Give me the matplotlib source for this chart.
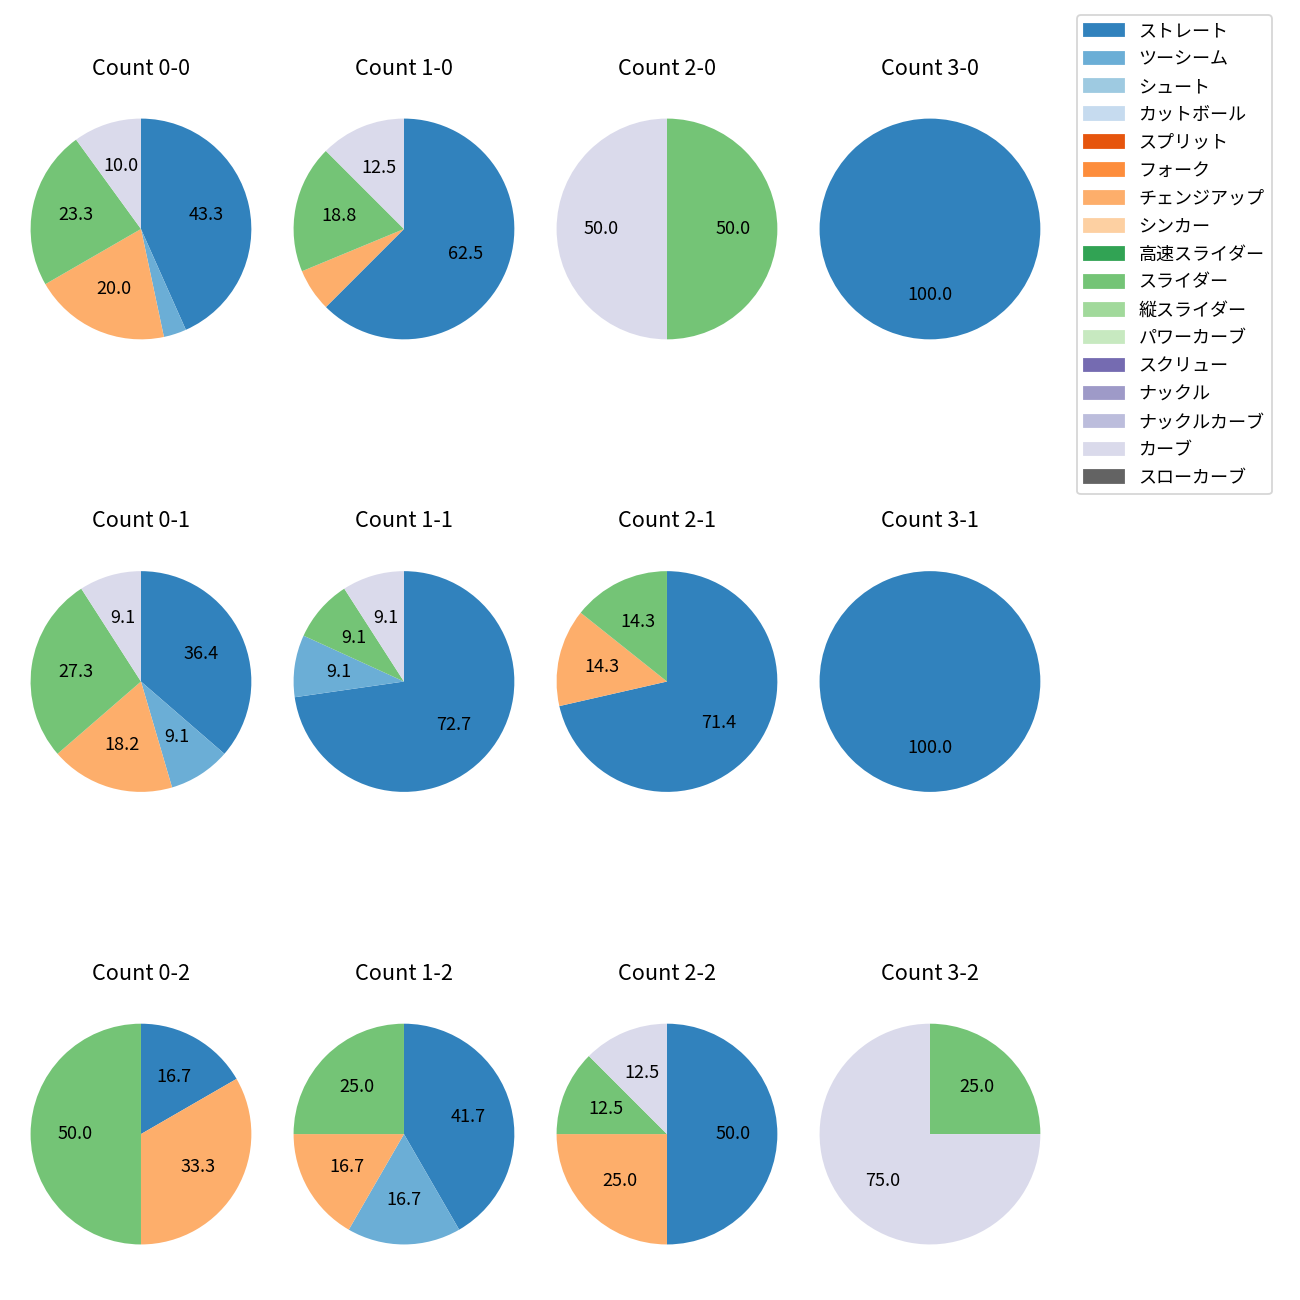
import matplotlib
matplotlib.use('Agg')
import matplotlib.pyplot as plt
import matplotlib.patches as mpatches
import numpy as np

plt.rcParams['font.family'] = ['Noto Sans CJK JP', 'DejaVu Sans']

pitch_types = ['ストレート', 'ツーシーム', 'シュート', 'カットボール', 'スプリット', 'フォーク',
               'チェンジアップ', 'シンカー', '高速スライダー', 'スライダー', '縦スライダー',
               'パワーカーブ', 'スクリュー', 'ナックル', 'ナックルカーブ', 'カーブ', 'スローカーブ']
colors = ['#3182bd', '#6baed6', '#9ecae1', '#c6dbef', '#e6550d', '#fd8d3c',
          '#fdae6b', '#fdd0a2', '#31a354', '#74c476', '#a1d99b', '#c7e9c0',
          '#756bb1', '#9e9ac8', '#bcbddc', '#dadaeb', '#636363']

balls = [0, 1, 2, 3]
strikes = [0, 1, 2]

# pitch counts per ball-strike count, in pitch_types order
counts = {
    '0-0': [13, 1, 0, 0, 0, 0, 6, 0, 0, 7, 0, 0, 0, 0, 0, 3, 0],
    '1-0': [10, 0, 0, 0, 0, 0, 1, 0, 0, 3, 0, 0, 0, 0, 0, 2, 0],
    '2-0': [0, 0, 0, 0, 0, 0, 0, 0, 0, 1, 0, 0, 0, 0, 0, 1, 0],
    '3-0': [1, 0, 0, 0, 0, 0, 0, 0, 0, 0, 0, 0, 0, 0, 0, 0, 0],
    '0-1': [4, 1, 0, 0, 0, 0, 2, 0, 0, 3, 0, 0, 0, 0, 0, 1, 0],
    '1-1': [8, 1, 0, 0, 0, 0, 0, 0, 0, 1, 0, 0, 0, 0, 0, 1, 0],
    '2-1': [5, 0, 0, 0, 0, 0, 1, 0, 0, 1, 0, 0, 0, 0, 0, 0, 0],
    '3-1': [1, 0, 0, 0, 0, 0, 0, 0, 0, 0, 0, 0, 0, 0, 0, 0, 0],
    '0-2': [1, 0, 0, 0, 0, 0, 2, 0, 0, 3, 0, 0, 0, 0, 0, 0, 0],
    '1-2': [5, 2, 0, 0, 0, 0, 2, 0, 0, 3, 0, 0, 0, 0, 0, 0, 0],
    '2-2': [4, 0, 0, 0, 0, 0, 2, 0, 0, 1, 0, 0, 0, 0, 0, 1, 0],
    '3-2': [0, 0, 0, 0, 0, 0, 0, 0, 0, 1, 0, 0, 0, 0, 0, 3, 0],
}

fig, axes = plt.subplots(3, 4, figsize=(10, 10), dpi=130)
fig.subplots_adjust(left=0.0023, right=0.8215, top=0.93, bottom=0.0215,
                    wspace=-0.047, hspace=0.64)

for r, s in enumerate(strikes):
    for c, b in enumerate(balls):
        ax = axes[r, c]
        key = f'{b}-{s}'
        vals = np.array(counts[key])
        keep = vals > 0
        ax.pie(vals[keep], colors=np.array(colors)[keep], startangle=90,
               counterclock=False,
               autopct=lambda p: f'{p:.1f}' if p >= 8 else '')
        ax.set_title(f'Count {key}', pad=9)

handles = [mpatches.Patch(color=col, label=lab) for col, lab in zip(colors, pitch_types)]
fig.legend(handles=handles, loc='upper left', bbox_to_anchor=(1077 / 1300, 1 - 15 / 1300),
           borderaxespad=0, labelspacing=0.55, handlelength=2.2)

fig.savefig('out.png')
